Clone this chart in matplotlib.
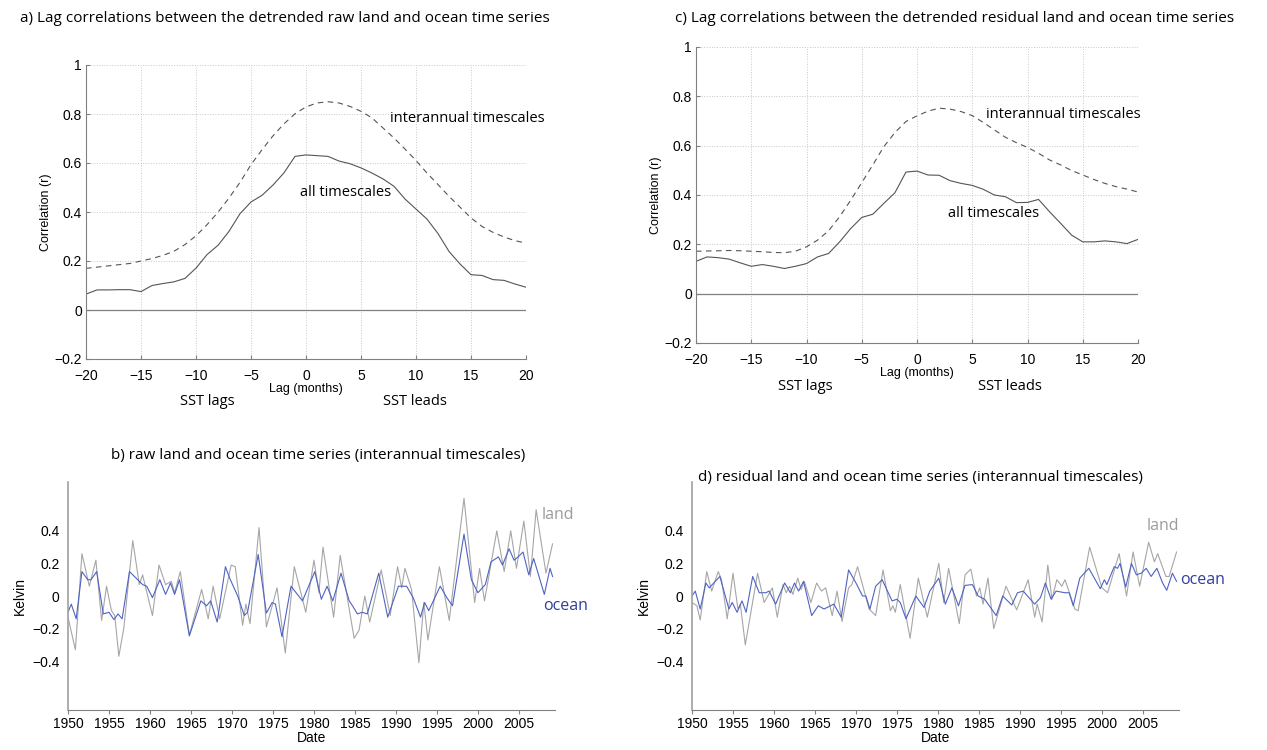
import numpy as np
import matplotlib
matplotlib.use("Agg")
import matplotlib.pyplot as plt
from matplotlib.ticker import FuncFormatter

# ---- lag correlation data (lags in months) ----
lags = list(range(-20, 21))

raw_all = [0.065, 0.082, 0.082, 0.083, 0.083, 0.075, 0.100, 0.108, 0.115, 0.129,
           0.171, 0.226, 0.264, 0.321, 0.393, 0.441, 0.468, 0.510, 0.560, 0.627,
           0.633, 0.630, 0.627, 0.608, 0.597, 0.580, 0.559, 0.535, 0.505, 0.453,
           0.412, 0.371, 0.312, 0.239, 0.188, 0.144, 0.141, 0.124, 0.121, 0.106, 0.093]
raw_inter = [0.170, 0.175, 0.180, 0.185, 0.190, 0.200, 0.210, 0.223, 0.240, 0.267,
             0.303, 0.348, 0.399, 0.457, 0.521, 0.593, 0.654, 0.711, 0.760, 0.801,
             0.829, 0.845, 0.850, 0.845, 0.831, 0.811, 0.784, 0.743, 0.702, 0.657,
             0.610, 0.559, 0.512, 0.464, 0.420, 0.376, 0.341, 0.317, 0.298, 0.283, 0.273]
res_all = [0.131, 0.149, 0.146, 0.140, 0.125, 0.111, 0.118, 0.111, 0.102, 0.111,
           0.122, 0.149, 0.163, 0.210, 0.264, 0.309, 0.322, 0.366, 0.409, 0.493,
           0.497, 0.481, 0.480, 0.458, 0.447, 0.439, 0.423, 0.400, 0.393, 0.369,
           0.370, 0.382, 0.332, 0.285, 0.237, 0.210, 0.210, 0.214, 0.210, 0.203, 0.220]
res_inter = [0.172, 0.173, 0.174, 0.175, 0.174, 0.172, 0.170, 0.167, 0.166, 0.172,
             0.190, 0.217, 0.255, 0.312, 0.379, 0.450, 0.522, 0.596, 0.653, 0.698,
             0.721, 0.740, 0.752, 0.748, 0.738, 0.722, 0.694, 0.664, 0.634, 0.612,
             0.593, 0.569, 0.542, 0.522, 0.499, 0.481, 0.463, 0.447, 0.434, 0.424, 0.412]

# ---- time series (interannual), read at turning points ----
raw_land_t = [1950.0, 1950.9, 1951.7, 1952.6, 1953.4, 1954.1, 1954.7, 1955.3, 1955.7, 1956.2,
              1956.8, 1957.9, 1958.7, 1959.1, 1960.3, 1961.1, 1961.9, 1962.6, 1963.0, 1963.7,
              1964.8, 1966.3, 1967.1, 1967.7, 1968.5, 1969.9, 1970.4, 1971.3, 1971.7, 1972.2,
              1973.3, 1974.2, 1975.5, 1976.5, 1977.6, 1979.0, 1980.0, 1980.6, 1981.1, 1982.4,
              1983.2, 1984.9, 1985.5, 1986.2, 1986.8, 1988.2, 1989.3, 1990.2, 1990.7, 1991.1,
              1991.9, 1992.8, 1993.4, 1993.9, 1995.3, 1996.5, 1998.3, 1999.6, 2000.2, 2000.8,
              2002.3, 2003.2, 2004.0, 2004.7, 2005.6, 2006.4, 2007.1, 2008.3, 2009.1]
raw_land_v = [-0.13, -0.33, 0.26, 0.06, 0.22, -0.15, 0.06, -0.09, -0.12, -0.37,
              -0.20, 0.34, 0.07, 0.13, -0.12, 0.19, 0.07, 0.09, 0.02, 0.15,
              -0.24, 0.04, -0.14, 0.06, -0.14, 0.19, 0.18, -0.18, -0.05, -0.17,
              0.42, -0.19, 0.05, -0.35, 0.18, -0.10, 0.22, 0.02, 0.30, -0.13,
              0.25, -0.26, -0.21, 0.00, -0.16, 0.16, -0.12, 0.18, 0.05, 0.17,
              0.04, -0.41, -0.04, -0.27, 0.18, -0.15, 0.60, -0.04, 0.17, -0.03,
              0.40, 0.15, 0.40, 0.17, 0.46, 0.12, 0.53, 0.14, 0.32]
raw_ocean_t = [1950.0, 1950.4, 1951.0, 1951.7, 1952.4, 1952.8, 1953.5, 1954.3, 1955.0, 1955.6,
               1956.1, 1956.6, 1957.5, 1958.5, 1959.1, 1959.6, 1960.3, 1961.2, 1961.9, 1962.5,
               1963.0, 1963.6, 1964.8, 1966.2, 1966.9, 1967.4, 1968.2, 1969.2, 1969.8, 1970.7,
               1971.5, 1971.9, 1973.2, 1974.2, 1974.9, 1975.3, 1976.1, 1977.2, 1978.6, 1980.1,
               1980.9, 1981.6, 1982.3, 1983.3, 1984.3, 1984.7, 1985.3, 1985.9, 1986.5, 1987.9,
               1989.0, 1990.3, 1991.3, 1992.1, 1993.0, 1993.5, 1994.0, 1995.4, 1996.2, 1996.9,
               1998.3, 1999.2, 2000.0, 2000.9, 2001.6, 2002.5, 2003.0, 2003.8, 2004.4, 2004.9,
               2005.5, 2006.2, 2006.8, 2008.1, 2008.8, 2009.1]
raw_ocean_v = [-0.10, -0.05, -0.14, 0.15, 0.10, 0.10, 0.15, -0.11, -0.10, -0.145,
               -0.11, -0.14, 0.15, 0.10, 0.07, 0.06, -0.01, 0.10, 0.01, 0.08,
               0.01, 0.10, -0.245, -0.03, -0.06, -0.03, -0.16, 0.18, 0.10, 0.00,
               -0.12, -0.10, 0.255, -0.105, -0.04, -0.05, -0.25, 0.06, -0.03, 0.15,
               -0.02, 0.06, -0.03, 0.14, -0.03, -0.06, -0.11, -0.10, -0.11, 0.14,
               -0.13, 0.06, 0.06, -0.01, -0.13, -0.04, -0.09, 0.06, -0.01, -0.06,
               0.38, 0.10, 0.02, 0.07, 0.21, 0.24, 0.19, 0.29, 0.22, 0.24,
               0.27, 0.13, 0.23, 0.01, 0.17, 0.12]

res_land_t = [1950.0, 1950.6, 1951.0, 1951.8, 1952.4, 1953.2, 1953.6, 1954.3, 1955.0, 1955.6,
              1955.9, 1956.5, 1958.0, 1958.8, 1959.8, 1960.4, 1961.1, 1961.5, 1961.9, 1962.3,
              1962.9, 1963.3, 1963.7, 1964.5, 1965.2, 1965.8, 1966.3, 1967.1, 1967.7, 1968.3,
              1969.1, 1969.5, 1970.2, 1971.6, 1972.4, 1973.3, 1974.2, 1974.5, 1974.8, 1975.4,
              1976.6, 1977.6, 1978.7, 1980.1, 1980.7, 1981.3, 1982.6, 1983.3, 1984.0, 1984.7,
              1985.1, 1985.5, 1986.1, 1986.8, 1988.3, 1989.6, 1991.0, 1991.8, 1992.1, 1992.7,
              1993.4, 1993.9, 1994.5, 1995.1, 1995.5, 1996.7, 1997.1, 1998.5, 2000.0, 2000.7,
              2002.1, 2003.0, 2003.8, 2004.6, 2005.7, 2006.4, 2006.8, 2007.8, 2008.2, 2009.1]
res_land_v = [-0.04, -0.06, -0.147, 0.15, 0.03, 0.15, 0.10, -0.14, 0.14, -0.08,
              -0.05, -0.30, 0.14, -0.04, 0.05, -0.13, 0.07, 0.02, 0.06, 0.01,
              0.11, 0.04, 0.09, -0.04, 0.08, 0.03, 0.05, -0.12, 0.03, -0.157,
              0.05, 0.07, 0.18, -0.08, -0.12, 0.16, -0.09, -0.06, -0.10, 0.07,
              -0.26, 0.11, -0.13, 0.20, -0.04, 0.17, -0.17, 0.13, 0.165, 0.00,
              0.05, -0.05, 0.11, -0.20, 0.06, -0.085, 0.10, -0.13, -0.05, -0.16,
              0.19, -0.02, 0.10, 0.06, 0.10, -0.08, -0.09, 0.30, 0.05, 0.02,
              0.26, 0.00, 0.27, 0.06, 0.33, 0.21, 0.26, 0.12, 0.12, 0.27]
res_ocean_t = [1950.0, 1950.4, 1951.0, 1951.7, 1952.1, 1953.4, 1954.5, 1954.9, 1955.5, 1956.1,
               1956.6, 1957.4, 1958.2, 1959.0, 1959.4, 1960.2, 1961.3, 1962.0, 1962.5, 1963.0,
               1963.6, 1964.6, 1965.4, 1966.1, 1967.3, 1968.2, 1969.1, 1970.0, 1970.8, 1971.2,
               1971.7, 1972.4, 1973.2, 1974.4, 1975.0, 1975.4, 1976.1, 1977.3, 1978.3, 1979.0,
               1980.1, 1980.9, 1981.7, 1982.5, 1983.3, 1984.2, 1984.9, 1985.7, 1987.1, 1987.9,
               1989.0, 1989.7, 1990.4, 1991.8, 1992.5, 1993.1, 1993.8, 1994.4, 1995.5, 1996.0,
               1996.5, 1997.3, 1998.4, 1999.8, 2000.3, 2000.6, 2001.5, 2001.9, 2002.2, 2002.9,
               2003.6, 2004.2, 2004.8, 2005.4, 2006.0, 2006.7, 2007.4, 2007.9, 2008.6, 2009.1]
res_ocean_v = [0.00, 0.03, -0.08, 0.08, 0.05, 0.12, -0.08, -0.04, -0.10, -0.03,
               -0.10, 0.12, 0.02, 0.02, 0.03, -0.05, 0.08, 0.02, 0.08, 0.03,
               0.09, -0.12, -0.06, -0.08, -0.05, -0.13, 0.16, 0.08, 0.00, 0.00,
               -0.08, 0.06, 0.10, -0.03, -0.02, -0.04, -0.14, 0.00, -0.07, 0.03,
               0.11, -0.05, 0.05, -0.06, 0.065, 0.07, 0.00, -0.02, -0.12, 0.00,
               -0.055, 0.02, 0.03, -0.05, -0.01, 0.08, -0.02, 0.03, 0.02, 0.02,
               -0.06, 0.11, 0.17, 0.045, 0.10, 0.07, 0.18, 0.17, 0.20, 0.055,
               0.20, 0.13, 0.14, 0.17, 0.12, 0.17, 0.08, 0.035, 0.14, 0.09]

W, H = 1267, 750
TXT = ["Open Sans", "DejaVu Sans"]
NUM = ["Liberation Sans", "DejaVu Sans"]
GRAY = "#808080"
LINE = "#555555"

fig = plt.figure(figsize=(W / 100, H / 100), dpi=100)


def box(l, t, r, b):
    return [l / W, 1 - b / H, (r - l) / W, (b - t) / H]


def fmt(v, pos):
    s = f"{v:g}"
    if s == "-0":
        s = "0"
    return s.replace("-", "\u2212")


def lag_panel(rect, all_v, inter_v, inter_xy, all_xy, lags_x, leads_x):
    ax = fig.add_axes(rect)
    ax.plot(lags, inter_v, color=LINE, lw=0.8, ls=(0, (5, 4)))
    ax.plot(lags, all_v, color=LINE, lw=0.8)
    ax.axhline(0, color=GRAY, lw=0.9)
    ax.set_xlim(-20, 20)
    ax.set_ylim(-0.2, 1)
    ax.set_xticks(range(-20, 21, 5))
    ax.set_yticks(np.arange(-0.2, 1.01, 0.2))
    ax.yaxis.set_major_formatter(FuncFormatter(fmt))
    ax.xaxis.set_major_formatter(FuncFormatter(fmt))
    ax.grid(True, ls=":", color="#c8c8c8", lw=0.7)
    for s in ["top", "right"]:
        ax.spines[s].set_visible(False)
    for s in ["left", "bottom"]:
        ax.spines[s].set_color(GRAY)
    ax.tick_params(direction="in", length=3, color=GRAY, labelsize=10)
    ax.tick_params(axis="x", pad=7)
    ax.tick_params(axis="y", pad=3)
    for lb in ax.get_xticklabels() + ax.get_yticklabels():
        lb.set_family(NUM)
    ax.set_ylabel("Correlation (r)", family=NUM, fontsize=9, labelpad=2)
    ax.set_xlabel("Lag (months)", family=NUM, fontsize=9, labelpad=0)
    ax.text(*inter_xy, "interannual timescales", family=TXT, fontsize=10.5,
            va="center", ha="left")
    ax.text(*all_xy, "all timescales", family=TXT, fontsize=10.5, va="center", ha="left")
    ax.text(lags_x, -0.375, "SST lags", family=TXT, fontsize=10.5, ha="center",
            va="center", clip_on=False)
    ax.text(leads_x, -0.375, "SST leads", family=TXT, fontsize=10.5, ha="center",
            va="center", clip_on=False)
    return ax


def ts_panel(rect, lt, lv, ot, ov, land_xy, ocean_xy):
    ax = fig.add_axes(rect)
    ax.plot(lt, lv, color="#a6a6a6", lw=0.8, solid_joinstyle="round")
    ax.plot(ot, ov, color="#4f63c4", lw=0.8, solid_joinstyle="round")
    ax.set_xlim(1950, 2009.4)
    ax.set_ylim(-0.7, 0.7)
    ax.set_xticks(range(1950, 2006, 5))
    ax.set_yticks([-0.4, -0.2, 0, 0.2, 0.4])
    ax.yaxis.set_major_formatter(FuncFormatter(fmt))
    for s in ["top", "right"]:
        ax.spines[s].set_visible(False)
    ax.spines["left"].set_color("#a0a0a0")
    ax.spines["left"].set_linewidth(1.2)
    ax.spines["bottom"].set_color(GRAY)
    ax.tick_params(axis="x", direction="out", length=3, color=GRAY, labelsize=10, pad=2)
    ax.tick_params(axis="y", length=0, labelsize=10, pad=6)
    for lb in ax.get_xticklabels() + ax.get_yticklabels():
        lb.set_family(NUM)
    ax.set_ylabel("Kelvin", family=NUM, fontsize=10, labelpad=4)
    ax.set_xlabel("Date", family=NUM, fontsize=10, labelpad=0)
    ax.text(*land_xy, "land", color="#9c9c9c", family=TXT, fontsize=11.5,
            va="center", clip_on=False)
    ax.text(*ocean_xy, "ocean", color="#2f3d9e", family=TXT, fontsize=11.5,
            va="center", clip_on=False)
    return ax


lag_panel(box(86, 65, 526, 359), raw_all, raw_inter, (7.6, 0.78), (-0.55, 0.478), -9.0, 9.9)
lag_panel(box(696, 47, 1138, 343), res_all, res_inter, (6.2, 0.728), (2.8, 0.327), -10.1, 8.4)
ts_panel(box(68, 482, 555, 710), raw_land_t, raw_land_v, raw_ocean_t, raw_ocean_v,
         (2007.8, 0.50), (2008.0, -0.06))
ts_panel(box(692, 482, 1179, 710), res_land_t, res_land_v, res_ocean_t, res_ocean_v,
         (2005.5, 0.43), (2009.5, 0.10))

titles = [
    (285, 18, "a) Lag correlations between the detrended raw land and ocean time series"),
    (955, 18, "c) Lag correlations between the detrended residual land and ocean time series"),
    (318, 455, "b) raw land and ocean time series (interannual timescales)"),
    (920, 478, "d) residual land and ocean time series (interannual timescales)"),
]
for x, y, s in titles:
    fig.text(x / W, 1 - y / H, s, family=TXT, fontsize=11, ha="center", va="center")

fig.savefig("out.png", dpi=100)
